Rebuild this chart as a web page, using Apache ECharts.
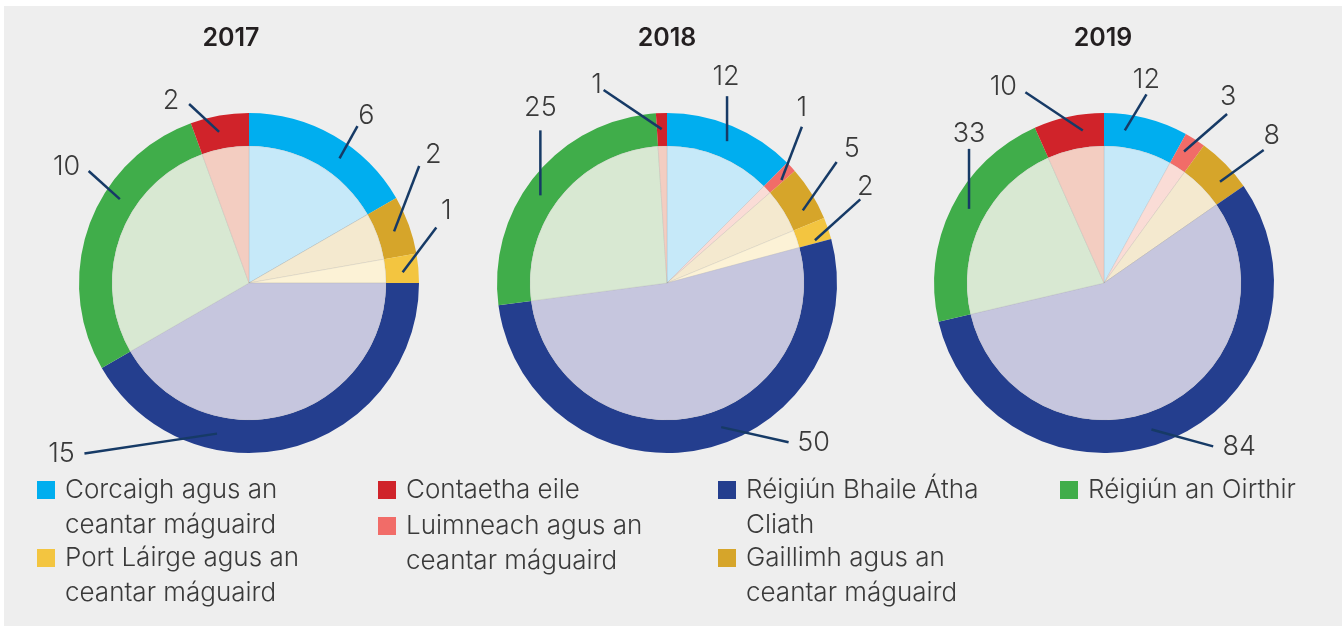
<!DOCTYPE html>
<html>
<head>
<meta charset="utf-8">
<script src="https://cdn.jsdelivr.net/npm/echarts@6/dist/echarts.min.js"></script>
<style>
  html, body { margin: 0; padding: 0; background: #ffffff; }
  #chart { position: absolute; left: 4px; top: 6px; width: 1338px; height: 620px; background: #eeeeee; }
</style>
</head>
<body>
<div id="chart"></div>
<script>
// Regions, in the clockwise order the slices are drawn (starting at 12 o'clock)
const regions = [
  'Corcaigh agus an ceantar máguaird',
  'Luimneach agus an ceantar máguaird',
  'Gaillimh agus an ceantar máguaird',
  'Port Láirge agus an ceantar máguaird',
  'Réigiún Bhaile Átha Cliath',
  'Réigiún an Oirthir',
  'Contaetha eile'
];
const years = ['2017', '2018', '2019'];
const values2017 = [6, 0, 2, 1, 15, 10, 2];
const values2018 = [12, 1, 5, 2, 50, 25, 1];
const values2019 = [12, 3, 8, 0, 84, 33, 10];
const yearValues = [values2017, values2018, values2019];

// How each legend entry wraps onto lines
const legendLines = {
  'Corcaigh agus an ceantar máguaird': ['Corcaigh agus an', 'ceantar máguaird'],
  'Port Láirge agus an ceantar máguaird': ['Port Láirge agus an', 'ceantar máguaird'],
  'Contaetha eile': ['Contaetha eile'],
  'Luimneach agus an ceantar máguaird': ['Luimneach agus an', 'ceantar máguaird'],
  'Réigiún Bhaile Átha Cliath': ['Réigiún Bhaile Átha', 'Cliath'],
  'Gaillimh agus an ceantar máguaird': ['Gaillimh agus an', 'ceantar máguaird'],
  'Réigiún an Oirthir': ['Réigiún an Oirthir']
};

// ---- styling ----
const ringColors  = ['#00aeef', '#f16c68', '#d6a52a', '#f3c540', '#243e8e', '#40ad4a', '#d0232a'];
const innerColors = ['#c6e9f9', '#fadcd6', '#f4e9cf', '#fcf2d6', '#c6c6de', '#d8e8d2', '#f3cdc1'];
const FONT = 'Inter, "Open Sans", sans-serif';
const TEXT_COLOR = '#3a3a3a';
const LEADER_COLOR = '#163a66';
const centers = [[245, 277], [663, 277], [1100, 277]];
const titleX = [227, 663, 1099];
const R_OUT = 170, R_IN = 137, R_MID = 154;
const LEGEND_LINE = 35;

// Legend entry placement: left edge of the icon and the centre of the entry's first line
const legendSlots = {
  'Corcaigh agus an ceantar máguaird':    [33, 484],
  'Port Láirge agus an ceantar máguaird': [33, 552],
  'Contaetha eile':                       [374, 484],
  'Luimneach agus an ceantar máguaird':   [374, 520],
  'Réigiún Bhaile Átha Cliath':           [714, 484],
  'Gaillimh agus an ceantar máguaird':    [714, 552],
  'Réigiún an Oirthir':                   [1056, 484]
};

// Leader lines: where along the slice the line starts (fraction of the slice),
// its direction (degrees clockwise from up), its length, and the value text offset from its end.
const leaders = [
  [ {at: 0.60, dir: 29,  len: 37,  tx: 9,   ty: -10},
    null,
    {at: 0.52, dir: 21,  len: 70,  tx: 14,  ty: -11},
    {at: 0.60, dir: 37,  len: 56,  tx: 10,  ty: -17},
    {at: 0.68, dir: 261.5, len: 134, tx: -23, ty: 0},
    {at: 0.63, dir: 312, len: 42,  tx: -22, ty: -4},
    {at: 0.44, dir: 313, len: 41,  tx: -18, ty: -3} ],
  [ {at: 0.51, dir: 0,   len: 45,  tx: -1,  ty: -19},
    {at: 0.80, dir: 21,  len: 57,  tx: 0,   ty: -19},
    {at: 0.70, dir: 35,  len: 59,  tx: 15,  ty: -13},
    {at: 0.85, dir: 48,  len: 61,  tx: 5,   ty: -13},
    {at: 0.45, dir: 102.6, len: 69, tx: 25, ty: 1},
    {at: 0.45, dir: 0,   len: 65,  tx: 0,   ty: -22},
    {at: 0.47, dir: 304, len: 70,  tx: -7,  ty: -5} ],
  [ {at: 0.27, dir: 31,  len: 42,  tx: 0,   ty: -15},
    {at: 0.35, dir: 49,  len: 57,  tx: 1,   ty: -17},
    {at: 0.67, dir: 54,  len: 54,  tx: 8,   ty: -14},
    null,
    {at: 0.53, dir: 105.3, len: 64, tx: 26, ty: 0},
    {at: 0.53, dir: 0,   len: 60,  tx: 0,   ty: -15},
    {at: 0.67, dir: 303.7, len: 69, tx: -22, ty: -5} ]
];

function leaderLayout(yi) {
  return function (params) {
    const vals = yearValues[yi];
    const i = params.dataIndex;
    const p = leaders[yi][i];
    if (!p || !vals[i]) return;
    const total = vals.reduce((a, b) => a + b, 0);
    let before = 0;
    for (let k = 0; k < i; k++) before += vals[k];
    const a0 = before / total * 360;
    const a1 = (before + vals[i]) / total * 360;
    const th = (a0 + (a1 - a0) * p.at) * Math.PI / 180;
    const [cx, cy] = centers[yi];
    const sx = cx + R_MID * Math.sin(th), sy = cy - R_MID * Math.cos(th);
    const ph = p.dir * Math.PI / 180;
    const ex = sx + p.len * Math.sin(ph), ey = sy - p.len * Math.cos(ph);
    return {
      x: ex + p.tx, y: ey + p.ty,
      align: 'center', verticalAlign: 'middle',
      labelLinePoints: [[sx, sy], [ex, ey], [ex, ey]]
    };
  };
}

const series = [];
years.forEach((y, yi) => {
  const vals = yearValues[yi];
  // outer ring
  series.push({
    type: 'pie', name: y, center: centers[yi], radius: [R_IN, R_OUT],
    startAngle: 90, clockwise: true,
    emphasis: { disabled: true },
    label: { show: false }, labelLine: { show: false },
    data: regions.map((n, k) => ({ name: n, value: vals[k], itemStyle: { color: ringColors[k] } })),
    z: 2
  });
  // lighter inner pie
  series.push({
    type: 'pie', name: y + ' inner', center: centers[yi], radius: [0, R_IN],
    startAngle: 90, clockwise: true,
    emphasis: { disabled: true },
    label: { show: false }, labelLine: { show: false },
    itemStyle: { borderColor: 'rgba(140,140,140,0.25)', borderWidth: 0.6 },
    data: regions.map((n, k) => ({ name: n, value: vals[k], itemStyle: { color: innerColors[k] } })),
    z: 2
  });
});
// value labels with leader lines, drawn above the rings
years.forEach((y, yi) => {
  const vals = yearValues[yi];
  series.push({
    type: 'pie', name: y + ' values', center: centers[yi], radius: [R_IN, R_OUT],
    startAngle: 90, clockwise: true, avoidLabelOverlap: false,
    silent: true, legendHoverLink: false,
    emphasis: { disabled: true },
    itemStyle: { color: 'rgba(0,0,0,0)' },
    data: regions.map((n, k) => ({
      name: n, value: vals[k],
      label: { show: vals[k] > 0 },
      labelLine: { show: vals[k] > 0 }
    })),
    label: {
      position: 'outside', formatter: '{c}',
      fontFamily: FONT, fontSize: 27, fontWeight: 300, color: TEXT_COLOR
    },
    labelLine: { length: 10, length2: 0, smooth: false, lineStyle: { color: LEADER_COLOR, width: 2.5 } },
    labelLayout: leaderLayout(yi),
    z: 5
  });
});

// One legend per entry. The legend centres its text block on the icon, so a
// multi-line entry gets one blank leading line per extra line, which puts the
// first real line level with the icon.
const legends = Object.keys(legendSlots).map(name => {
  const lines = legendLines[name];
  const blank = lines.length - 1;
  const text = '\n'.repeat(blank) + lines.join('\n');
  const [left, firstLineY] = legendSlots[name];
  return {
    orient: 'vertical', left: left,
    top: firstLineY - (blank + 0.5) * LEGEND_LINE,
    padding: 0, itemGap: 0,
    itemWidth: 18, itemHeight: 18, icon: 'rect',
    selectedMode: false,
    formatter: () => text,
    data: [name],
    textStyle: {
      fontFamily: FONT, fontSize: 26, fontWeight: 300, color: TEXT_COLOR,
      lineHeight: LEGEND_LINE, padding: [0, 0, 0, 5]
    }
  };
});

const chart = echarts.init(document.getElementById('chart'));
chart.setOption({
  backgroundColor: '#eeeeee',
  animation: false,
  graphic: years.map((y, yi) => ({
    type: 'text', x: titleX[yi], y: 32,
    style: {
      text: y, fill: '#231f20', font: '600 25px ' + FONT,
      textAlign: 'center', textVerticalAlign: 'middle'
    }
  })),
  legend: legends,
  series
});
</script>
</body>
</html>
